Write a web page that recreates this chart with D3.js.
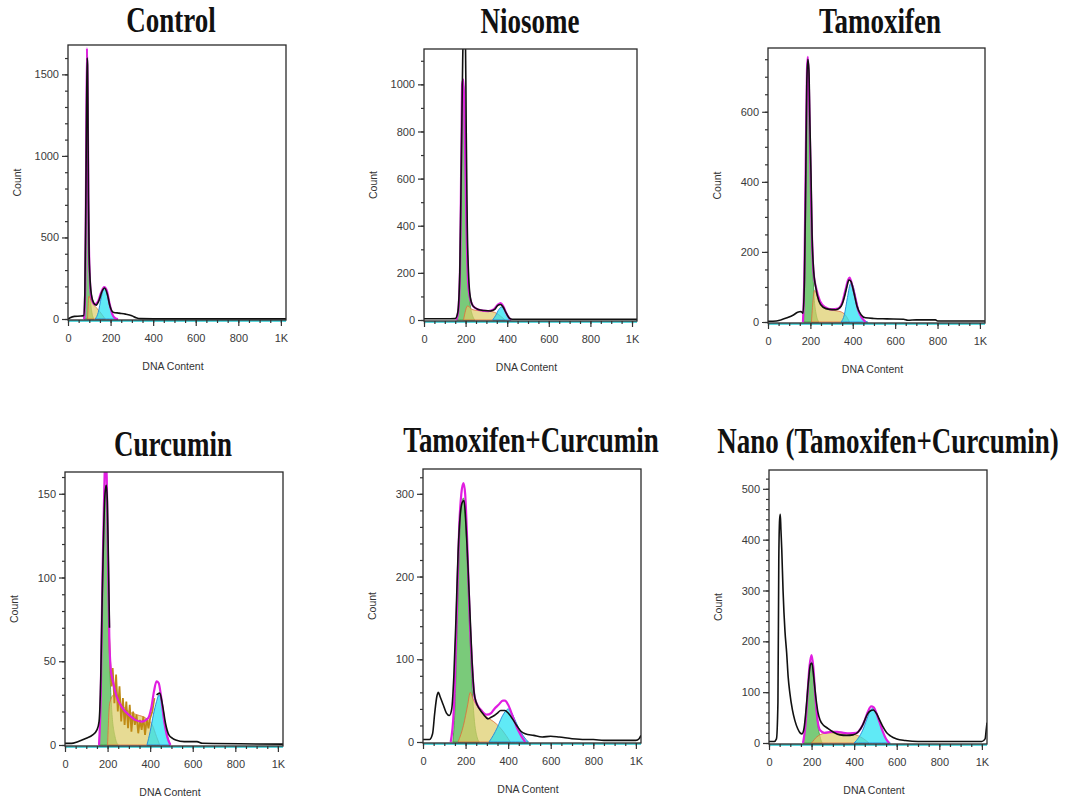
<!DOCTYPE html>
<html><head><meta charset="utf-8">
<script src="https://cdn.jsdelivr.net/npm/d3@7"></script>
<style>body{margin:0;background:#fff}</style>
</head><body>
<svg id="c" width="1067" height="807"></svg>
<script>
// ---------- data ----------
const titles = ["Control","Niosome","Tamoxifen","Curcumin","Tamoxifen+Curcumin","Nano (Tamoxifen+Curcumin)"];
const yMaxes = [1680,1150,782,163,330,537];
const yMajorSteps = [500,200,200,50,100,100];
const yMinorSteps = [100,100,50,10,20,20];
const xTickValues = [0,200,400,600,800,1000];
const xTickLabels = ["0","200","400","600","800","1K"];
const xMinorStep = 50;
const xMax = 1024;

const controlHist = [[0,0],[10,8],[30,16],[60,18],[74,22],[79,150],[83,600],[87,1250],[90,1600],[92,1560],[94,1200],[96,760],[99,420],[103,260],[110,150],[120,100],[132,85],[146,115],[160,170],[172,190],[185,150],[198,75],[212,42],[240,36],[270,30],[300,20],[320,8],[340,2],[400,1],[1024,1]];
const controlFit = [[76,0],[81,200],[85,900],[89,1660],[92,1450],[96,700],[101,300],[110,130],[125,90],[140,105],[155,160],[170,195],[182,175],[195,95],[208,30],[222,5],[235,0]];
const controlG1 = [[75,0],[81,250],[85,1000],[89,1640],[93,1300],[97,600],[103,200],[111,50],[122,0]];
const controlS = [[92,0],[98,140],[110,110],[125,80],[140,60],[158,30],[175,0]];
const controlG2 = [[128,0],[142,40],[156,130],[170,190],[182,170],[195,90],[208,25],[222,0]];

const niosomeHist = [[0,5],[100,5],[150,6],[162,30],[172,200],[180,700],[186,1100],[191,1300],[198,1300],[203,800],[208,400],[215,180],[222,100],[235,60],[260,45],[290,40],[320,38],[340,45],[355,62],[368,66],[380,55],[395,30],[410,8],[425,3],[1024,3]];
const niosomeFit = [[155,0],[165,40],[175,300],[183,1000],[190,1020],[196,800],[204,400],[212,160],[222,90],[240,55],[270,42],[310,38],[335,45],[355,65],[368,72],[380,60],[395,30],[410,8],[420,0]];
const niosomeG1 = [[158,0],[170,100],[180,700],[188,1000],[195,950],[202,600],[210,250],[220,80],[235,15],[245,0]];
const niosomeS = [[190,0],[210,60],[230,45],[260,40],[300,38],[330,35],[350,28],[370,15],[390,0]];
const niosomeG2 = [[330,0],[345,20],[360,45],[372,55],[385,45],[400,20],[415,0]];

const tamoxifenHist = [[0,2],[40,3],[60,6],[90,12],[120,20],[140,28],[155,30],[165,25],[172,120],[178,400],[183,680],[188,750],[193,720],[198,560],[203,420],[208,250],[215,150],[225,100],[240,60],[260,42],[290,36],[320,35],[345,45],[360,70],[372,100],[382,120],[392,115],[405,85],[420,45],[440,20],[460,12],[500,10],[560,9],[640,8],[660,5],[700,6],[790,6],[800,3],[1024,3]];
const tamoxifenFit = [[165,0],[172,150],[178,450],[184,720],[188,757],[192,700],[198,520],[205,300],[215,140],[228,95],[245,60],[270,42],[300,36],[330,38],[350,55],[365,90],[378,120],[385,127],[395,110],[410,75],[425,35],[445,10],[460,0]];
const tamoxifenG1 = [[168,0],[175,300],[182,650],[188,740],[194,650],[200,450],[207,250],[215,100],[225,30],[240,0]];
const tamoxifenS = [[205,0],[220,90],[240,60],[270,40],[310,33],[340,30],[365,20],[385,0]];
const tamoxifenG2 = [[345,0],[360,20],[375,70],[390,110],[400,105],[415,65],[430,30],[450,8],[470,0]];

const curcuminHist = [[0,1],[30,1],[60,2],[100,4],[130,6],[150,9],[160,14],[168,40],[175,90],[182,130],[188,150],[194,155],[199,145],[204,110],[209,70],null,[430,30],[445,31],[458,24],[472,13],[488,6],[505,4],[520,3],[560,2],[620,2],[645,1],[1024,0.5]];
const curcuminNoise = [[205,70],[212,50],[218,35],[224,46],[232,25],[240,42],[248,20],[256,35],[264,14],[272,28],[280,12],[288,26],[296,10],[304,24],[312,8],[320,20],[328,12],[336,18],[344,7],[352,15],[360,9],[368,17],[376,6],[384,16],[392,10],[400,16],[410,20],[420,28]];
const curcuminFit = [[160,0],[168,30],[176,100],[184,150],[190,175],[196,160],[202,110],[208,65],[215,45],[225,38],[240,30],[270,22],[300,18],[330,15],[360,14],[390,16],[405,22],[418,32],[430,38],[440,37],[450,30],[465,15],[480,5],[495,0]];
const curcuminG1 = [[160,0],[170,40],[180,120],[188,155],[195,150],[202,100],[210,50],[220,20],[235,5],[250,0]];
const curcuminS = [[200,0],[210,25],[230,30],[260,25],[300,20],[340,18],[380,16],[410,12],[430,5],[445,0]];
const curcuminG2 = [[385,0],[400,8],[415,18],[430,26],[442,30],[452,27],[465,15],[480,6],[495,0]];

const tamCurHist = [[0,3],[30,3],[45,10],[55,35],[65,55],[72,60],[80,55],[95,45],[110,35],[124,32],[135,40],[145,80],[155,150],[165,230],[175,275],[185,290],[193,292],[200,270],[210,220],[220,160],[230,100],[240,60],[250,48],[265,40],[285,33],[305,28],[320,30],[335,32],[350,35],[365,38],[385,38],[400,35],[420,28],[440,20],[460,13],[480,10],[520,8],[560,6],[600,7],[640,6],[700,4],[760,3],[800,3],[850,2],[900,2],[1000,2],[1015,4],[1024,8]];
const tamCurFit = [[130,0],[145,40],[158,150],[170,260],[180,300],[190,313],[198,300],[208,240],[218,160],[230,95],[242,55],[255,45],[275,38],[300,33],[320,35],[335,40],[355,45],[375,50],[385,50],[400,45],[420,32],[440,18],[460,8],[480,0]];
const tamCurG1 = [[140,0],[150,40],[160,130],[170,230],[180,285],[190,295],[200,270],[210,200],[220,130],[230,70],[240,30],[255,5],[265,0]];
const tamCurS = [[165,0],[190,20],[210,45],[222,60],[235,52],[250,45],[270,38],[300,30],[330,25],[360,18],[390,8],[410,0]];
const tamCurG2 = [[310,0],[330,8],[350,18],[370,30],[390,38],[400,40],[415,36],[435,25],[455,14],[475,6],[495,0]];

const nanoHist = [[0,3],[25,3],[35,8],[42,80],[46,360],[50,440],[53,450],[56,420],[60,380],[66,300],[75,220],[83,177],[90,130],[98,98],[110,65],[121,45],[135,28],[146,20],[155,18],[165,30],[175,70],[185,120],[195,155],[202,157],[210,130],[220,90],[230,60],[240,45],[256,35],[272,30],[300,22],[333,16],[365,15],[395,16],[420,22],[440,35],[460,55],[475,63],[490,65],[505,58],[520,45],[535,32],[553,20],[570,14],[600,8],[640,5],[700,3],[800,3],[900,3],[1000,3],[1015,8],[1020,25],[1024,40]];
const nanoFit = [[160,0],[170,30],[180,90],[190,150],[200,173],[208,150],[218,90],[228,45],[240,25],[260,20],[290,22],[320,22],[350,20],[380,19],[410,20],[430,28],[450,45],[465,62],[480,72],[492,70],[505,58],[520,40],[535,22],[550,8],[565,0]];
const nanoG1 = [[160,0],[172,40],[182,100],[192,150],[200,160],[208,140],[218,85],[228,40],[240,12],[250,0]];
const nanoS = [[200,0],[225,12],[250,18],[280,20],[320,20],[360,19],[400,17],[430,12],[455,5],[470,0]];
const nanoG2 = [[400,0],[420,10],[440,25],[458,45],[472,60],[485,68],[498,64],[512,50],[528,30],[545,12],[560,3],[570,0]];

const panelData = [
  {hist:controlHist, fit:controlFit, g1:controlG1, s:controlS, g2:controlG2},
  {hist:niosomeHist, fit:niosomeFit, g1:niosomeG1, s:niosomeS, g2:niosomeG2},
  {hist:tamoxifenHist, fit:tamoxifenFit, g1:tamoxifenG1, s:tamoxifenS, g2:tamoxifenG2},
  {hist:curcuminHist, fit:curcuminFit, g1:curcuminG1, s:curcuminS, g2:curcuminG2, noise:curcuminNoise},
  {hist:tamCurHist, fit:tamCurFit, g1:tamCurG1, s:tamCurS, g2:tamCurG2},
  {hist:nanoHist, fit:nanoFit, g1:nanoG1, s:nanoS, g2:nanoG2}
];

// ---------- layout ----------
const boxes = [
  {l:68, r:286, t:45, b:320, tx:171, ty:32},
  {l:424, r:637, t:49, b:321, tx:530, ty:33},
  {l:768, r:985, t:48, b:323, tx:880, ty:33},
  {l:65, r:283, t:472, b:746, tx:173, ty:456},
  {l:423, r:641, t:469, b:743, tx:531, ty:452},
  {l:769, r:987, t:470, b:744, tx:888, ty:453}
];

const svg = d3.select("#c");
const sans = "'Liberation Sans', Arial, sans-serif";

boxes.forEach((bx, i) => {
  const d = panelData[i];
  const x = d3.scaleLinear().domain([0, xMax]).range([bx.l, bx.r]);
  const y = d3.scaleLinear().domain([0, yMaxes[i]]).range([bx.b - 1, bx.t]);
  const g = svg.append("g");

  // title
  g.append("text")
    .attr("transform", `translate(${bx.tx},${bx.ty}) scale(1,1.3)`)
    .attr("text-anchor","middle")
    .style("font-family","'Liberation Serif','Times New Roman',serif")
    .style("font-weight","bold").style("font-size","27px").attr("fill","#111")
    .text(titles[i]);

  const clipId = "clip" + i;
  svg.append("clipPath").attr("id", clipId).append("rect")
    .attr("x", bx.l).attr("y", bx.t).attr("width", bx.r - bx.l).attr("height", bx.b - bx.t + 2);
  const plot = g.append("g").attr("clip-path", `url(#${clipId})`);

  const area = d3.area().curve(d3.curveMonotoneX).x(p => x(p[0])).y0(y(0)).y1(p => y(p[1]));
  const line = d3.line().curve(d3.curveMonotoneX).defined(p => p != null).x(p => x(p[0])).y(p => y(p[1]));
  const lineLin = d3.line().x(p => x(p[0])).y(p => y(p[1]));

  plot.append("path").datum(d.g1).attr("d", area).attr("fill","#46b646").attr("fill-opacity",0.72)
    .attr("stroke","#3a9a3a").attr("stroke-width",0.8);
  plot.append("path").datum(d.s).attr("d", area).attr("fill","#ddcc66").attr("fill-opacity",0.7)
    .attr("stroke","#e06a3a").attr("stroke-width",0.8);
  plot.append("path").datum(d.g2).attr("d", area).attr("fill","#22e2f2").attr("fill-opacity",0.72)
    .attr("stroke","#2b8fd8").attr("stroke-width",1);

  if (d.noise) {
    plot.append("path").datum(d.noise).attr("d", lineLin).attr("fill","none")
      .attr("stroke","#bf8a14").attr("stroke-width",1.8);
  }
  plot.append("path").datum(d.fit).attr("d", line).attr("fill","none")
    .attr("stroke","#e01ee0").attr("stroke-width",2.2);
  plot.append("path").datum(d.hist).attr("d", line).attr("fill","none")
    .attr("stroke","#111").attr("stroke-width",1.6);

  // cyan baseline
  g.append("line").attr("x1", bx.l).attr("x2", bx.r).attr("y1", bx.b + 1).attr("y2", bx.b + 1)
    .attr("stroke","#22c8d0").attr("stroke-width",1.5);

  // frame
  g.append("rect").attr("x", bx.l).attr("y", bx.t).attr("width", bx.r - bx.l).attr("height", bx.b - bx.t)
    .attr("fill","none").attr("stroke","#2a2a2a").attr("stroke-width",1.3);

  // y axis
  const yMaj = d3.range(0, yMaxes[i] + 1e-9, yMajorSteps[i]);
  const yMin = d3.range(0, yMaxes[i] + 1e-9, yMinorSteps[i]);
  const yAxMin = g.append("g").attr("transform",`translate(${bx.l},0)`)
    .call(d3.axisLeft(y).tickValues(yMin).tickSize(3).tickFormat(""));
  const yAx = g.append("g").attr("transform",`translate(${bx.l},0)`)
    .call(d3.axisLeft(y).tickValues(yMaj).tickSize(6).tickPadding(3).tickFormat(d3.format("d")));
  // x axis
  const xMin = d3.range(0, xMax + 1e-9, xMinorStep);
  const xAxMin = g.append("g").attr("transform",`translate(0,${bx.b})`)
    .call(d3.axisBottom(x).tickValues(xMin).tickSize(3).tickFormat(""));
  const xAx = g.append("g").attr("transform",`translate(0,${bx.b})`)
    .call(d3.axisBottom(x).tickValues(xTickValues).tickSize(6).tickPadding(8)
      .tickFormat((v, k) => xTickLabels[k]));
  [yAxMin, yAx, xAxMin, xAx].forEach(a => {
    a.select(".domain").remove();
    a.selectAll("line").attr("stroke","#333").attr("stroke-width",1.2);
    a.selectAll("text").style("font-family", sans).style("font-size","11px").attr("fill","#3a3a3a");
  });

  // axis titles
  g.append("text")
    .attr("transform", `translate(${bx.l - 47},${(bx.t + bx.b) / 2}) rotate(-90)`)
    .attr("text-anchor","middle")
    .style("font-family", sans).style("font-size","10.5px").attr("fill","#333")
    .text("Count");
  g.append("text")
    .attr("x", (bx.l + bx.r) / 2 - 4).attr("y", bx.b + 50)
    .attr("text-anchor","middle")
    .style("font-family", sans).style("font-size","10.5px").attr("fill","#333")
    .text("DNA Content");
});
</script>
</body></html>
